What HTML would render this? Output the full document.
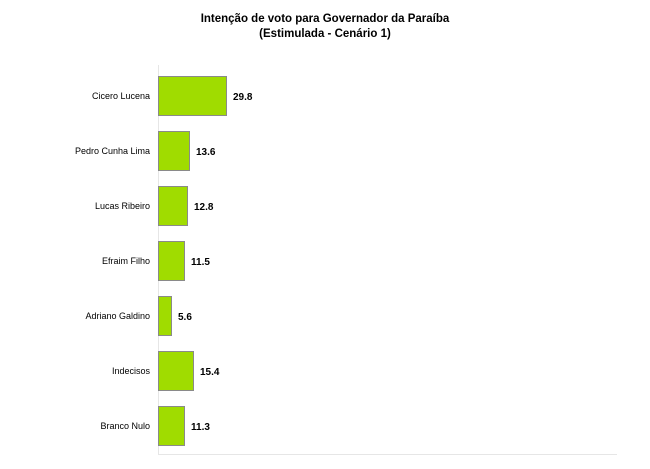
<!DOCTYPE html>
<html><head><meta charset="utf-8"><style>
html,body{margin:0;padding:0;background:#fff;width:650px;height:469px;overflow:hidden;}
svg{display:block;font-family:"Liberation Sans",Arial,sans-serif;}
</style></head><body>
<svg width="650" height="469" viewBox="0 0 650 469" xmlns="http://www.w3.org/2000/svg">
<text x="325" y="22" text-anchor="middle" font-size="11.5" font-weight="bold" fill="#000">Intenção de voto para Governador da Paraíba</text>
<text x="325" y="37" text-anchor="middle" font-size="11.5" font-weight="bold" fill="#000">(Estimulada - Cenário 1)</text>
<line x1="158.5" y1="65" x2="158.5" y2="455" stroke="#e6e6e6"/>
<line x1="158" y1="454.5" x2="617" y2="454.5" stroke="#e6e6e6"/>
<g fill="#a0dc00" stroke="#8a8a8a" stroke-width="1">
<rect x="158.5" y="76.5" width="68" height="39"/>
<rect x="158.5" y="131.5" width="31" height="39"/>
<rect x="158.5" y="186.5" width="29" height="39"/>
<rect x="158.5" y="241.5" width="26" height="39"/>
<rect x="158.5" y="296.5" width="13" height="39"/>
<rect x="158.5" y="351.5" width="35" height="39"/>
<rect x="158.5" y="406.5" width="26" height="39"/>
</g>
<g font-size="9" fill="#000" text-anchor="end">
<text x="150" y="99">Cicero Lucena</text>
<text x="150" y="154">Pedro Cunha Lima</text>
<text x="150" y="209">Lucas Ribeiro</text>
<text x="150" y="264">Efraim Filho</text>
<text x="150" y="319">Adriano Galdino</text>
<text x="150" y="374">Indecisos</text>
<text x="150" y="429">Branco Nulo</text>
</g>
<g font-size="10" font-weight="bold" fill="#000">
<text x="233" y="100">29.8</text>
<text x="196" y="155">13.6</text>
<text x="194" y="210">12.8</text>
<text x="191" y="265">11.5</text>
<text x="178" y="320">5.6</text>
<text x="200" y="375">15.4</text>
<text x="191" y="430">11.3</text>
</g>
</svg>
</body></html>
